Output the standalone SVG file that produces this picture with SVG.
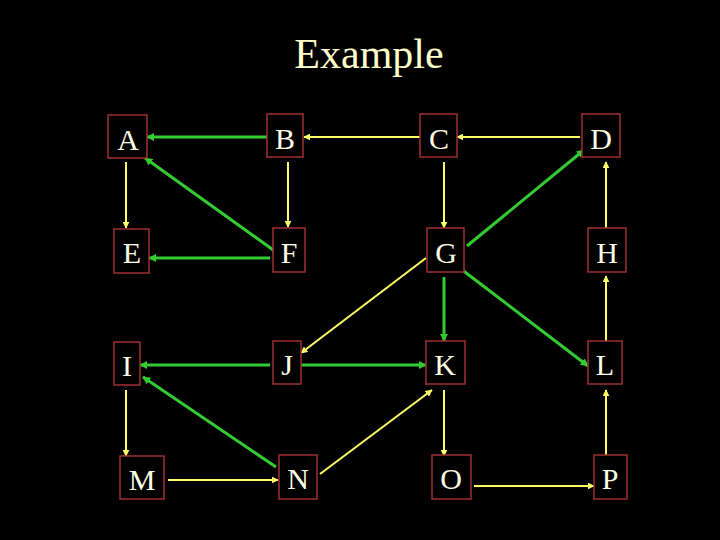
<svg xmlns="http://www.w3.org/2000/svg" width="720" height="540" viewBox="0 0 720 540">
<defs>
<style>
.box{fill:#000;stroke:#a03030;stroke-width:1.5}
.lbl{font-family:"Liberation Serif","Times New Roman",serif;font-size:30px;fill:#ffffe6;text-anchor:middle}
.g{stroke:#33cc33;stroke-width:3;fill:none;marker-end:url(#ag)}
.y{stroke:#ffff66;stroke-width:2;fill:none;marker-end:url(#ay)}
</style>
<marker id="ag" viewBox="0 0 10 10" refX="9" refY="5" markerWidth="8" markerHeight="8" markerUnits="userSpaceOnUse" orient="auto"><path d="M0,0 L10,5 L0,10 z" fill="#33cc33"/></marker>
<marker id="ay" viewBox="0 0 10 10" refX="9" refY="5" markerWidth="7" markerHeight="7" markerUnits="userSpaceOnUse" orient="auto"><path d="M0,0 L10,5 L0,10 z" fill="#ffff66"/></marker>
</defs>
<rect width="720" height="540" fill="#000"/>
<text x="369" y="68" style="font-family:'Liberation Serif','Times New Roman',serif;font-size:42px;fill:#ffffcc;text-anchor:middle">Example</text>
<g id="connectors">
<line class="g" x1="267" y1="137" x2="147" y2="137"/>
<line class="y" x1="420" y1="137" x2="304" y2="137"/>
<line class="g" x1="276" y1="252" x2="145" y2="158"/>
<line class="y" x1="126" y1="162" x2="126" y2="228"/>
<line class="y" x1="288" y1="162" x2="288" y2="227"/>
<line class="g" x1="270" y1="258" x2="149" y2="258"/>
<line class="y" x1="580" y1="137" x2="457" y2="137"/>
<line class="g" x1="467" y1="246" x2="584" y2="150"/>
<line class="y" x1="444" y1="162" x2="444" y2="228"/>
<line class="y" x1="606" y1="228" x2="606" y2="162"/>
<line class="y" x1="426" y1="258" x2="301" y2="353"/>
<line class="g" x1="461" y1="269" x2="588" y2="366"/>
<line class="g" x1="444" y1="277" x2="444" y2="341"/>
<line class="y" x1="606" y1="341" x2="606" y2="276"/>
<line class="g" x1="270" y1="365" x2="140" y2="365"/>
<line class="g" x1="301" y1="365" x2="426" y2="365"/>
<line class="g" x1="276" y1="467" x2="143" y2="377"/>
<line class="y" x1="126" y1="390" x2="126" y2="456"/>
<line class="y" x1="168" y1="480" x2="278" y2="480"/>
<line class="y" x1="320" y1="474" x2="432" y2="390"/>
<line class="y" x1="444" y1="390" x2="444" y2="456"/>
<line class="y" x1="474" y1="486" x2="594" y2="486"/>
<line class="y" x1="606" y1="455" x2="606" y2="390"/>
</g>
<g id="A"><rect class="box" x="108" y="115" width="39" height="43"/><text class="lbl" x="128" y="150">A</text></g>
<g id="B"><rect class="box" x="267" y="114" width="36" height="43"/><text class="lbl" x="285" y="149">B</text></g>
<g id="C"><rect class="box" x="420" y="114" width="37" height="43"/><text class="lbl" x="439" y="149">C</text></g>
<g id="D"><rect class="box" x="582" y="114" width="38" height="43"/><text class="lbl" x="601" y="149">D</text></g>
<g id="E"><rect class="box" x="114" y="229" width="35" height="44"/><text class="lbl" x="132" y="263">E</text></g>
<g id="F"><rect class="box" x="273" y="228" width="32" height="44"/><text class="lbl" x="289" y="263">F</text></g>
<g id="G"><rect class="box" x="427" y="228" width="37" height="44"/><text class="lbl" x="446" y="263">G</text></g>
<g id="H"><rect class="box" x="588" y="228" width="38" height="44"/><text class="lbl" x="607" y="263">H</text></g>
<g id="I"><rect class="box" x="114" y="342" width="26" height="43"/><text class="lbl" x="127" y="376">I</text></g>
<g id="J"><rect class="box" x="273" y="341" width="28" height="43"/><text class="lbl" x="287" y="375">J</text></g>
<g id="K"><rect class="box" x="426" y="341" width="39" height="43"/><text class="lbl" x="445" y="375">K</text></g>
<g id="L"><rect class="box" x="588" y="341" width="34" height="43"/><text class="lbl" x="605" y="375">L</text></g>
<g id="M"><rect class="box" x="120" y="456" width="44" height="43"/><text class="lbl" x="142" y="490">M</text></g>
<g id="N"><rect class="box" x="279" y="455" width="38" height="44"/><text class="lbl" x="298" y="489">N</text></g>
<g id="O"><rect class="box" x="432" y="455" width="39" height="44"/><text class="lbl" x="451" y="489">O</text></g>
<g id="P"><rect class="box" x="594" y="455" width="33" height="44"/><text class="lbl" x="610" y="489">P</text></g>
</svg>
